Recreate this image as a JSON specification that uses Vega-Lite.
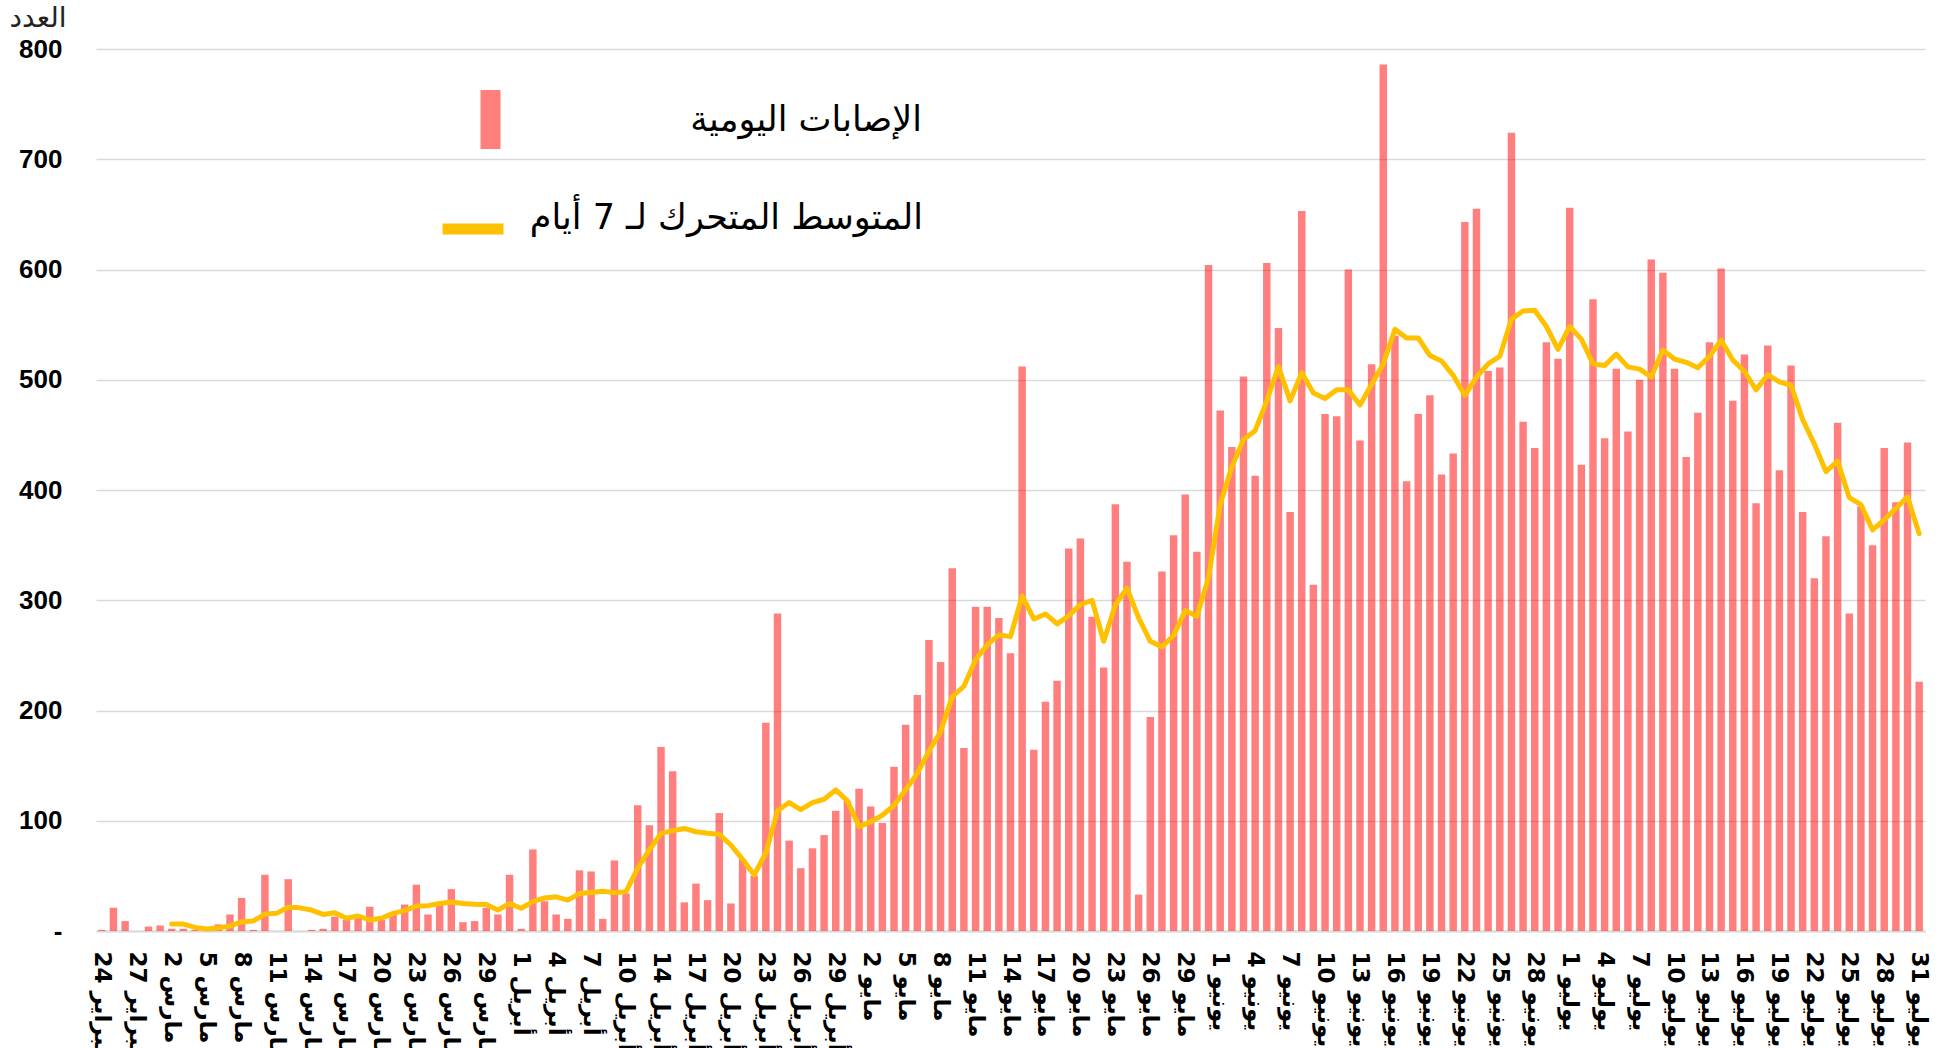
{
  "$schema": "https://vega.github.io/schema/vega-lite/v6.json",
  "autosize": {"type": "none"},
  "padding": {"left": 96, "top": 49, "right": 15, "bottom": 117},
  "width": 1829,
  "height": 882,
  "background": "white",
  "config": {"view": {"stroke": null}},
  "data": {"values": [
    {"d":"24 فبراير","v":1},{"d":"25 فبراير","v":21},{"d":"26 فبراير","v":9},{"d":"27 فبراير","v":0},{"d":"28 فبراير","v":4},{"d":"1 مارس","v":5},
    {"d":"2 مارس","v":2,"m":6.3},{"d":"3 مارس","v":2,"m":6.3},{"d":"4 مارس","v":1,"m":3.3},{"d":"5 مارس","v":3,"m":1.8},{"d":"6 مارس","v":6,"m":2.7},{"d":"7 مارس","v":15,"m":4.5},{"d":"8 مارس","v":30,"m":8.5},{"d":"9 مارس","v":1,"m":9},{"d":"10 مارس","v":51,"m":15.4},{"d":"11 مارس","v":0,"m":16},{"d":"12 مارس","v":47,"m":21.5},{"d":"13 مارس","v":0,"m":21},{"d":"14 مارس","v":1,"m":19},{"d":"15 مارس","v":2,"m":15},{"d":"16 مارس","v":13,"m":16.6},{"d":"17 مارس","v":10,"m":11.5},{"d":"18 مارس","v":14,"m":13.6},{"d":"19 مارس","v":22,"m":10},{"d":"20 مارس","v":10,"m":11.5},{"d":"21 مارس","v":17,"m":16},{"d":"22 مارس","v":24,"m":18.5},{"d":"23 مارس","v":42,"m":22.7},{"d":"24 مارس","v":15,"m":23},{"d":"25 مارس","v":26,"m":25},{"d":"26 مارس","v":38,"m":26.3},{"d":"27 مارس","v":8,"m":25},{"d":"28 مارس","v":9,"m":24.2},{"d":"29 مارس","v":21,"m":24},{"d":"30 مارس","v":15,"m":19},{"d":"31 مارس","v":51,"m":25},
    {"d":"1 أبريل","v":2,"m":20.6},{"d":"2 أبريل","v":74,"m":26.6},{"d":"3 أبريل","v":27,"m":30},{"d":"4 أبريل","v":15,"m":31},{"d":"5 أبريل","v":11,"m":28},{"d":"6 أبريل","v":55,"m":34},{"d":"7 أبريل","v":54,"m":35},{"d":"8 أبريل","v":11,"m":36},{"d":"9 أبريل","v":64,"m":34.8},{"d":"10 أبريل","v":34,"m":35.7},{"d":"11 أبريل","v":114,"m":57},{"d":"13 أبريل","v":96,"m":73.5},{"d":"14 أبريل","v":167,"m":88.6},{"d":"15 أبريل","v":145,"m":91},{"d":"16 أبريل","v":26,"m":93},{"d":"17 أبريل","v":43,"m":90},{"d":"18 أبريل","v":28,"m":88.6},{"d":"19 أبريل","v":107,"m":87.7},{"d":"20 أبريل","v":25,"m":78},{"d":"21 أبريل","v":65,"m":65},{"d":"22 أبريل","v":50,"m":50.8},{"d":"23 أبريل","v":189,"m":71},{"d":"24 أبريل","v":288,"m":109},{"d":"25 أبريل","v":82,"m":116.5},{"d":"26 أبريل","v":57,"m":110},{"d":"27 أبريل","v":75,"m":116.5},{"d":"28 أبريل","v":87,"m":119.5},{"d":"29 أبريل","v":109,"m":128},{"d":"30 أبريل","v":118,"m":118},
    {"d":"1 مايو","v":129,"m":94.7},{"d":"2 مايو","v":113,"m":99},{"d":"3 مايو","v":98,"m":105},{"d":"4 مايو","v":149,"m":114},{"d":"5 مايو","v":187,"m":128},{"d":"6 مايو","v":214,"m":143},{"d":"7 مايو","v":264,"m":163},{"d":"8 مايو","v":244,"m":181},{"d":"9 مايو","v":329,"m":212.6},{"d":"10 مايو","v":166,"m":222},{"d":"11 مايو","v":294,"m":246},{"d":"12 مايو","v":294,"m":259.5},{"d":"13 مايو","v":284,"m":268.6},{"d":"14 مايو","v":252,"m":267},{"d":"15 مايو","v":512,"m":304},{"d":"16 مايو","v":164.5,"m":283},{"d":"17 مايو","v":208,"m":287.6},{"d":"18 مايو","v":227,"m":278.6},{"d":"19 مايو","v":347,"m":286},{"d":"20 مايو","v":356,"m":296},{"d":"21 مايو","v":285,"m":300},{"d":"22 مايو","v":239,"m":262.8},{"d":"23 مايو","v":387,"m":295.7},{"d":"24 مايو","v":335,"m":311},{"d":"25 مايو","v":33,"m":284},{"d":"26 مايو","v":194,"m":262.8},{"d":"27 مايو","v":326,"m":257.7},{"d":"28 مايو","v":359,"m":268},{"d":"29 مايو","v":396,"m":290.6},{"d":"30 مايو","v":344,"m":285.5},{"d":"31 مايو","v":604,"m":320.5},
    {"d":"1 يونيو","v":472,"m":386.8},{"d":"2 يونيو","v":439,"m":421},{"d":"3 يونيو","v":503,"m":445.7},{"d":"4 يونيو","v":413,"m":453.8},{"d":"5 يونيو","v":606,"m":480.8},{"d":"6 يونيو","v":547,"m":512},{"d":"7 يونيو","v":380,"m":480.8},{"d":"8 يونيو","v":653,"m":506.4},{"d":"9 يونيو","v":314,"m":488},{"d":"10 يونيو","v":469,"m":483},{"d":"11 يونيو","v":467,"m":491},{"d":"12 يونيو","v":600,"m":491},{"d":"13 يونيو","v":445,"m":477},{"d":"14 يونيو","v":514,"m":496},{"d":"15 يونيو","v":786,"m":514.4},{"d":"16 يونيو","v":540,"m":545.7},{"d":"17 يونيو","v":408,"m":537.9},{"d":"18 يونيو","v":469,"m":537.9},{"d":"19 يونيو","v":486,"m":522},{"d":"20 يونيو","v":414,"m":517},{"d":"21 يونيو","v":433,"m":504},{"d":"22 يونيو","v":643,"m":485.8},{"d":"23 يونيو","v":655,"m":502.4},{"d":"24 يونيو","v":508,"m":514.4},{"d":"25 يونيو","v":511,"m":521.2},{"d":"26 يونيو","v":724,"m":555},{"d":"27 يونيو","v":462,"m":562.4},{"d":"28 يونيو","v":438,"m":563},{"d":"29 يونيو","v":534,"m":548.3},{"d":"30 يونيو","v":519,"m":527.5},
    {"d":"1 يوليو","v":656,"m":548.3},{"d":"2 يوليو","v":423,"m":536.8},{"d":"3 يوليو","v":573,"m":514.4},{"d":"4 يوليو","v":447,"m":512.9},{"d":"5 يوليو","v":510,"m":523.3},{"d":"6 يوليو","v":453,"m":511.7},{"d":"7 يوليو","v":500,"m":509.6},{"d":"8 يوليو","v":609,"m":502.5},{"d":"9 يوليو","v":597,"m":527},{"d":"10 يوليو","v":510,"m":518.8},{"d":"11 يوليو","v":430,"m":515.8},{"d":"12 يوليو","v":470,"m":510.8},{"d":"13 يوليو","v":534,"m":521.3},{"d":"14 يوليو","v":601,"m":535.8},{"d":"15 يوليو","v":481,"m":518},{"d":"16 يوليو","v":523,"m":507.5},{"d":"17 يوليو","v":388,"m":490.8},{"d":"18 يوليو","v":531,"m":504.6},{"d":"19 يوليو","v":418,"m":498},{"d":"20 يوليو","v":513,"m":495},{"d":"21 يوليو","v":380,"m":463.8},{"d":"22 يوليو","v":320,"m":441.7},{"d":"23 يوليو","v":358,"m":416.7},{"d":"24 يوليو","v":461,"m":426.3},{"d":"25 يوليو","v":288,"m":393},{"d":"26 يوليو","v":385,"m":386.7},{"d":"27 يوليو","v":350,"m":363.8},{"d":"28 يوليو","v":438,"m":372.9},{"d":"29 يوليو","v":389,"m":383.3},{"d":"30 يوليو","v":443,"m":393.8},{"d":"31 يوليو","v":226,"m":360.4}
  ]},
  "encoding": {
    "x": {
      "field": "d", "type": "nominal", "sort": null,
      "scale": {"type": "band", "paddingInner": 0.36, "paddingOuter": 0.18},
      "axis": {
        "title": null,
        "values": ["24 فبراير","27 فبراير","2 مارس","5 مارس","8 مارس","11 مارس","14 مارس","17 مارس","20 مارس","23 مارس","26 مارس","29 مارس","1 أبريل","4 أبريل","7 أبريل","10 أبريل","14 أبريل","17 أبريل","20 أبريل","23 أبريل","26 أبريل","29 أبريل","2 مايو","5 مايو","8 مايو","11 مايو","14 مايو","17 مايو","20 مايو","23 مايو","26 مايو","29 مايو","1 يونيو","4 يونيو","7 يونيو","10 يونيو","13 يونيو","16 يونيو","19 يونيو","22 يونيو","25 يونيو","28 يونيو","1 يوليو","4 يوليو","7 يوليو","10 يوليو","13 يوليو","16 يوليو","19 يوليو","22 يوليو","25 يوليو","28 يوليو","31 يوليو"],
        "labelAngle": 90, "labelAlign": "left", "labelBaseline": "middle",
        "labelFont": "DejaVu Sans", "labelFontWeight": "bold", "labelFontSize": 23, "labelColor": "#000000",
        "labelPadding": 20, "labelOverlap": false, "labelFlush": false, "labelBound": false, "labelLimit": 300,
        "ticks": false, "grid": false, "domain": true, "domainColor": "#d9d9d9", "domainWidth": 2
      }
    }
  },
  "layer": [
    {
      "mark": {"type": "bar", "fillOpacity": 0.5},
      "encoding": {
        "y": {
          "field": "v", "type": "quantitative",
          "scale": {"domain": [0, 800], "nice": false, "zero": true},
          "axis": {
            "values": [0, 100, 200, 300, 400, 500, 600, 700, 800],
            "labelExpr": "datum.value == 0 ? '-  ' : datum.label",
            "labelFont": "Liberation Sans", "labelFontWeight": "bold", "labelFontSize": 26, "labelColor": "#000000",
            "labelPadding": 34, "ticks": false, "domain": false,
            "grid": true, "gridColor": "#d9d9d9", "gridWidth": 1.3,
            "title": "العدد", "titleAngle": 0, "titleAlign": "left", "titleBaseline": "alphabetic",
            "titleX": -87, "titleY": -23, "titleFont": "DejaVu Sans", "titleFontSize": 28,
            "titleFontWeight": "normal", "titleColor": "#222222"
          }
        },
        "fill": {
          "datum": "الإصابات اليومية",
          "scale": {"domain": ["الإصابات اليومية"], "range": ["#ff0000"]},
          "legend": {
            "title": null, "orient": "none", "legendX": 365, "legendY": 41, "padding": 0,
            "symbolType": "M-0.339,-1H0.339V1H-0.339Z", "symbolSize": 3481,
            "symbolStrokeWidth": 0, "symbolOpacity": 0.5,
            "labelAlign": "right", "labelBaseline": "middle", "labelOffset": 402, "labelLimit": 700,
            "labelFont": "DejaVu Sans", "labelFontSize": 35, "labelColor": "#000000"
          }
        }
      }
    },
    {
      "transform": [{"filter": "datum.m != null"}],
      "mark": {"type": "line", "strokeWidth": 5, "strokeJoin": "round", "strokeCap": "round"},
      "encoding": {
        "y": {"field": "m", "type": "quantitative"},
        "stroke": {
          "datum": "المتوسط المتحرك لـ 7 أيام",
          "scale": {"domain": ["المتوسط المتحرك لـ 7 أيام"], "range": ["#ffc000"]},
          "legend": {
            "title": null, "orient": "none", "legendX": 341, "legendY": 144, "padding": 0,
            "symbolType": "stroke", "symbolSize": 3721, "symbolStrokeWidth": 11,
            "labelAlign": "right", "labelBaseline": "alphabetic", "labelOffset": 414, "labelLimit": 700,
            "labelFont": "DejaVu Sans", "labelFontSize": 35, "labelColor": "#000000"
          }
        }
      }
    }
  ]
}
